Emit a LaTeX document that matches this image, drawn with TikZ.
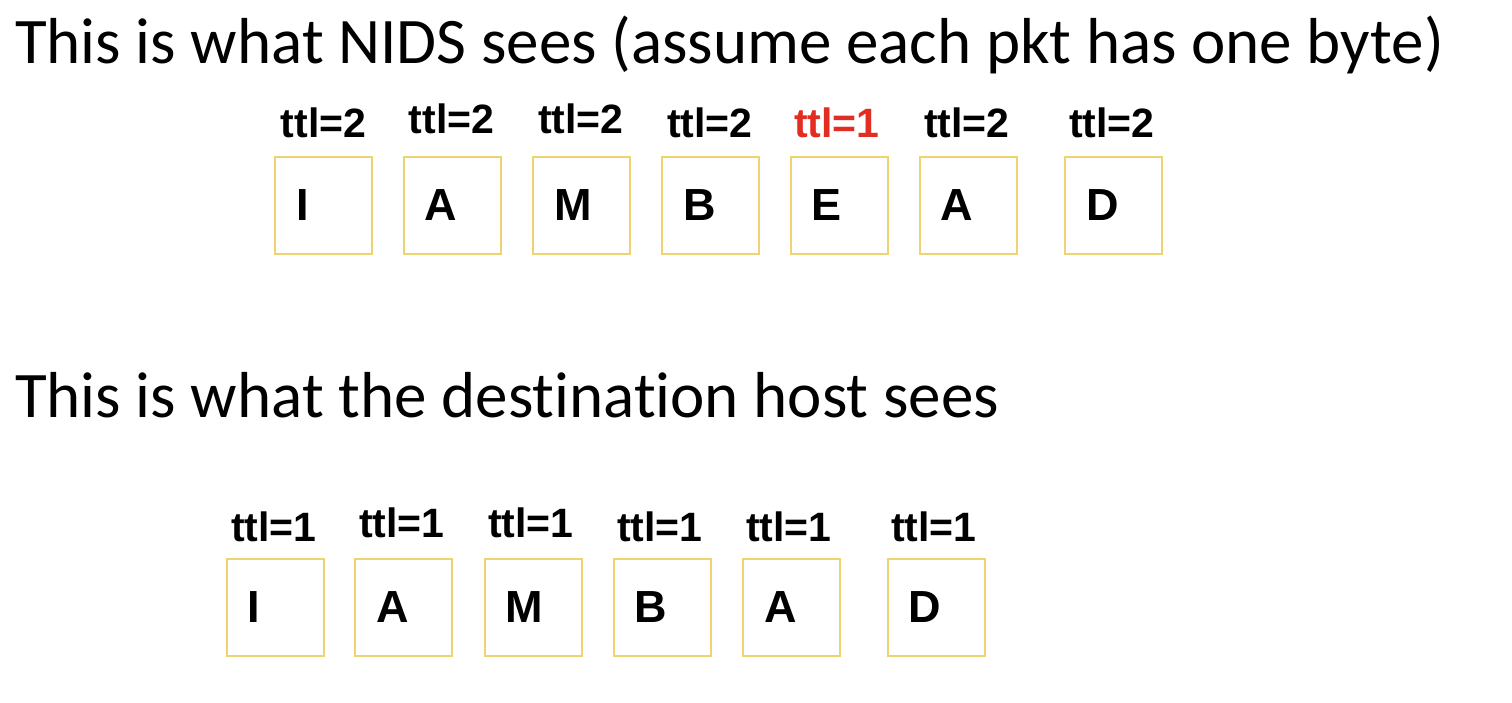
\documentclass[tikz,border=0pt]{standalone}
\usepackage{fontspec}
\setmainfont{Carlito}[Ligatures=NoCommon]
\newfontfamily\pktfont{Liberation Sans}
\usetikzlibrary{positioning}
\definecolor{pktyellow}{RGB}{238,212,110}
\definecolor{ttlred}{RGB}{226,45,35}
\tikzset{
  x=1pt, y=-1pt,
  {heading/.style} ={anchor=base west, inner sep=0,
                     font=\fontsize{65}{75}\selectfont},
  {pkt/.style} ={draw=pktyellow, line width=2pt, rectangle,
                 minimum width=97pt, minimum height=97pt,
                 inner xsep=21pt, inner ysep=0, text width=55pt, align=left,
                 font=\pktfont\bfseries\fontsize{45}{48}\selectfont},
  {ttl/.style} ={anchor=base, inner sep=0,
                 font=\pktfont\bfseries\fontsize{41}{46}\selectfont},
  {ttl drop/.style} ={ttl, text=ttlred},
}
\begin{document}
\begin{tikzpicture}
\useasboundingbox (0,0) rectangle (1512,702);
% what the NIDS sees
\node[heading] (h1) at (15,63) {This is what NIDS sees (assume each pkt has one byte)};
\node[pkt] (p1) at (323.5,205) {I};
\node[pkt] (p2) at (452,205) {A};
\node[pkt] (p3) at (581.5,205) {M};
\node[pkt] (p4) at (710.5,205) {B};
\node[pkt] (p5) at (839,205) {E};
\node[pkt] (p6) at (968,205) {A};
\node[pkt] (p7) at (1113.5,205) {D};
\node[ttl] (t1) at (323.5,137) {ttl=2};
\node[ttl] (t2) at (451.5,133) {ttl=2};
\node[ttl] (t3) at (581,133) {ttl=2};
\node[ttl] (t4) at (710,137) {ttl=2};
\node[ttl drop] (t5) at (837,137) {ttl=1};
\node[ttl] (t6) at (967,137) {ttl=2};
\node[ttl] (t7) at (1112,137) {ttl=2};
% what the destination host sees
\node[heading] (h2) at (15,417) {This is what the destination host sees};
\node[pkt] (q1) at (275,607.5) {I};
\node[pkt] (q2) at (403.5,607.5) {A};
\node[pkt] (q3) at (533,607.5) {M};
\node[pkt] (q4) at (662,607.5) {B};
\node[pkt] (q5) at (791.5,607.5) {A};
\node[pkt] (q6) at (936,607.5) {D};
\node[ttl] (s1) at (274,541) {ttl=1};
\node[ttl] (s2) at (402,537) {ttl=1};
\node[ttl] (s3) at (531,537) {ttl=1};
\node[ttl] (s4) at (660,541) {ttl=1};
\node[ttl] (s5) at (789,541) {ttl=1};
\node[ttl] (s6) at (934,541) {ttl=1};
\end{tikzpicture}
\end{document}
